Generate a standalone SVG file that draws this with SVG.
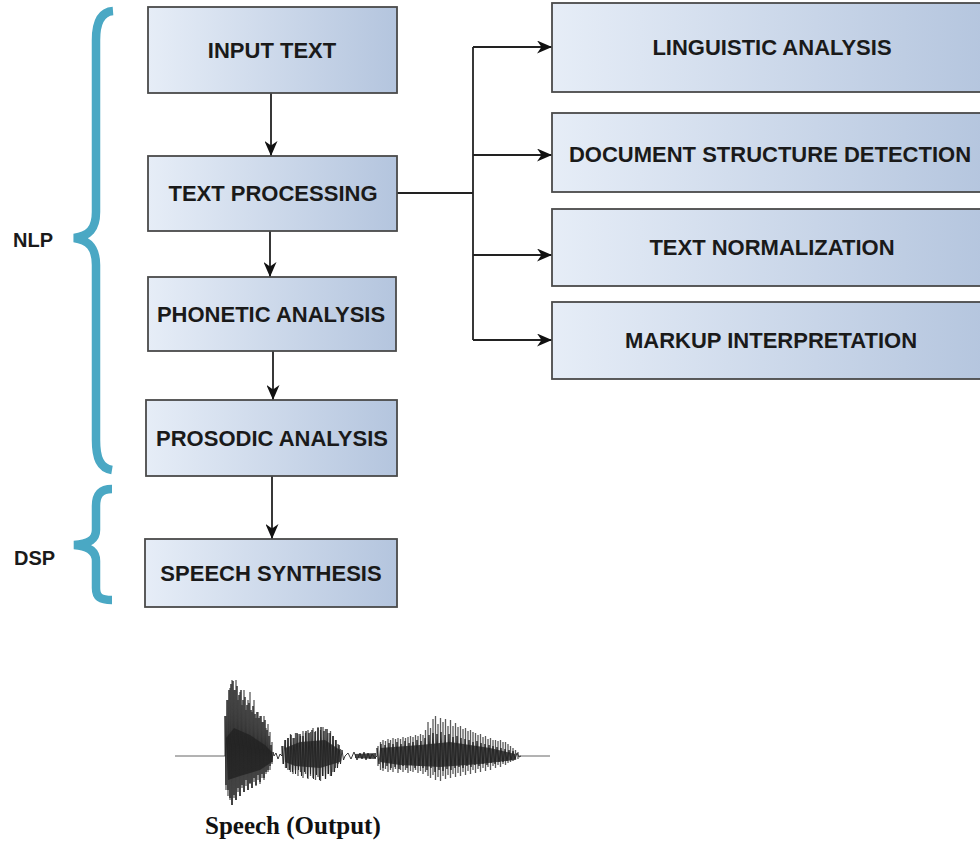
<svg xmlns="http://www.w3.org/2000/svg" width="980" height="844" viewBox="0 0 980 844">
<defs>
<linearGradient id="boxg" x1="0" y1="0" x2="1" y2="0">
<stop offset="0" stop-color="#e6edf7"/>
<stop offset="1" stop-color="#b4c5de"/>
</linearGradient>
<marker id="arr" viewBox="0 0 15 13" markerWidth="15" markerHeight="13" refX="15" refY="6.5" orient="auto" markerUnits="userSpaceOnUse">
<path d="M0,0 L15,6.5 L0,13 L4.5,6.5 z" fill="#111"/>
</marker>
</defs>
<style>
.box{fill:url(#boxg);stroke:#4a4a4a;stroke-width:1.8}
.lbl{font-family:"Liberation Sans",Arial,sans-serif;font-weight:bold;font-size:22px;fill:#1a1a1a;text-anchor:middle}
.side{font-family:"Liberation Sans",Arial,sans-serif;font-weight:bold;font-size:20px;fill:#1a1a1a}
.con{fill:none;stroke:#222;stroke-width:1.8}
.brace{fill:none;stroke:#4aa8c4;stroke-width:8.5;stroke-linecap:butt}
.wave{fill:none;stroke:#222;stroke-width:0.9}
.pulse{fill:none;stroke:#5a5a5a;stroke-width:1.3}
.core{fill:#2a2a2a;opacity:0.85}
</style>
<rect width="980" height="844" fill="#fff"/>

<g id="braces">
<path class="brace" d="M113,11 C100,12 96,24 96,40 V212 C96,229 89,236 74,238 C89,240 96,248 96,265 V440 C96,458 100,468 112,470"/>
<path class="brace" d="M112,489 C100,489 96,495 96,506 V530 C96,540 88,544 74,545 C88,546 96,551 96,561 V588 C96,597 100,600 112,600"/>
</g>
<g id="nlp-label"><text class="side" x="13" y="247">NLP</text></g>
<g id="dsp-label"><text class="side" x="14" y="565">DSP</text></g>

<g id="connectors">
<path class="con" d="M271,93 V156" marker-end="url(#arr)"/>
<path class="con" d="M270,231 V277" marker-end="url(#arr)"/>
<path class="con" d="M273,351 V400" marker-end="url(#arr)"/>
<path class="con" d="M272,476 V539" marker-end="url(#arr)"/>
<path class="con" d="M397,193 H473"/>
<path class="con" d="M473,47 V340"/>
<path class="con" d="M473,47 H552" marker-end="url(#arr)"/>
<path class="con" d="M473,155 H552" marker-end="url(#arr)"/>
<path class="con" d="M473,255 H552" marker-end="url(#arr)"/>
<path class="con" d="M473,340 H552" marker-end="url(#arr)"/>
</g>

<g id="input-text"><rect class="box" x="148" y="7" width="249" height="86"/><text class="lbl" x="272" y="58">INPUT TEXT</text></g>
<g id="text-processing"><rect class="box" x="148" y="156" width="249" height="75"/><text class="lbl" x="273" y="201">TEXT PROCESSING</text></g>
<g id="phonetic-analysis"><rect class="box" x="148" y="277" width="248" height="74"/><text class="lbl" x="271" y="322">PHONETIC ANALYSIS</text></g>
<g id="prosodic-analysis"><rect class="box" x="146" y="400" width="251" height="76"/><text class="lbl" x="272" y="446">PROSODIC ANALYSIS</text></g>
<g id="speech-synthesis"><rect class="box" x="145" y="539" width="252" height="68"/><text class="lbl" x="271" y="581">SPEECH SYNTHESIS</text></g>

<g id="linguistic-analysis"><rect class="box" x="552" y="3" width="440" height="89"/><text class="lbl" x="772" y="55">LINGUISTIC ANALYSIS</text></g>
<g id="document-structure-detection"><rect class="box" x="552" y="113" width="440" height="79"/><text class="lbl" x="770" y="162">DOCUMENT STRUCTURE DETECTION</text></g>
<g id="text-normalization"><rect class="box" x="552" y="209" width="440" height="77"/><text class="lbl" x="772" y="255">TEXT NORMALIZATION</text></g>
<g id="markup-interpretation"><rect class="box" x="552" y="302" width="440" height="77"/><text class="lbl" x="771" y="348">MARKUP INTERPRETATION</text></g>

<g id="waveform">
<path d="M175,756 H225 M519,756 H550" stroke="#666" stroke-width="1" fill="none"/>
<path class="pulse" d="M226,716V790M228,700V796M230,688V800M232,680V805M234,690V798M236,680V800M238,700V792M240,692V796M242,705V788M244,690V792M246,710V786M248,700V790M250,692V784M252,712V788M254,700V782M256,718V786M258,712V780M260,716V784M262,722V778M264,716V780M266,728V774M268,724V772M270,732V770M272,742V764"/>
<path class="pulse" d="M283,746V764M285.5,740V768M288,738V770M290.5,734V772M293,738V774M295.5,733V770M298,734V776M300.5,736V772M303,731V778M305.5,733V774M308,730V779M310.5,732V776M313,728V778M315.5,731V780M318,727V777M320.5,730V781M323,727V776M325.5,729V779M328,733V774M330.5,731V776M333,736V772M335.5,740V768M338,744V764M340.5,749V761"/>
<path class="pulse" d="M378,746V766M380.5,742V770M383,740V771M385.5,741V769M388,739V772M390.5,740V770M393,738V772M395.5,739V769M398,738V773M400.5,739V770M403,737V772M405.5,738V770M408,737V773M410.5,736V771M413,737V772M415.5,735V770M418,736V773M420.5,734V771M423,735V774M425.5,730V772M428,722V776M430.5,728V778M433,719V775M435.5,716V780M438,724V777M440.5,718V781M443,722V776M445.5,719V779M448,726V775M450.5,720V778M453,726V774M455.5,723V777M458,727V773M460.5,726V776M463,729V772M465.5,728V775M468,731V771M470.5,730V774M473,732V770M475.5,733V773M478,735V769M480.5,734V772M483,737V768M485.5,736V771M488,739V767M490.5,738V770M493,740V766M495.5,740V768M498,741V765M500.5,740V767M503,742V764M505.5,742V765M508,744V763M510.5,746V762M513,748V761M515.5,750V760M518,752V759"/>
<path class="core" d="M226,738 L234,728 L250,735 L265,745 L272,752 L272,762 L260,770 L240,776 L228,780 Z"/>
<path class="core" d="M285,748 L300,742 L325,740 L340,750 L340,762 L320,768 L295,766 L285,762 Z"/>
<path class="core" d="M355,754 L376,753 L376,759 L355,758 Z"/>
<path class="core" d="M380,748 L420,745 L450,742 L490,748 L515,754 L515,760 L480,764 L440,767 L400,765 L380,762 Z"/>
<path class="wave" d="M225,756 L225,716 226,785 227,700 228,790 229,690 230,798 231,684 232,805 233,681 234,795 235,690 236,800 237,686 238,788 239,695 240,796 241,690 242,785 243,700 244,792 245,697 246,780 247,705 248,790 249,703 250,783 251,710 252,788 253,706 254,778 255,714 256,785 257,712 258,775 259,718 260,782 261,716 262,774 263,722 264,778 265,720 266,772 267,730 268,770 269,736 270,766 271,745 272,762 273,752 274,756 276,753 278,759 280,754 282,756"/>
<path class="wave" stroke="#333" d="M282,756 L282,746 283.5,764 285,740 286.5,768 288,738 289.5,770 291,735 292.5,772 294,738 295.5,774 297,733 298.5,770 300,734 301.5,776 303,736 304.5,772 306,731 307.5,778 309,733 310.5,774 312,730 313.5,779 315,732 316.5,775 318,728 319.5,780 321,727 322.5,776 324,731 325.5,779 327,729 328.5,774 330,733 331.5,776 333,736 334.5,772 336,740 337.5,768 339,745 340.5,764 342,750 343.5,760 345,756 348,753 351,759 354,752 357,760 360,753 362,759 364,752 366,760 368,753 370,759 372,754 375,758 377,756"/>
<path class="wave" stroke="#333" d="M377,756 L377,748 379,764 381,744 383,768 385,745 387,766 389,743 391,768 393,744 395,767 397,742 399,769 401,744 403,766 405,741 407,768 409,743 411,765 413,742 415,768 417,740 419,766 421,741 423,768 425,738 427,770 429,735 431,768 433,733 435,772 437,734 439,770 441,732 443,771 445,735 447,769 449,734 451,770 453,737 455,768 457,736 459,767 461,738 463,768 465,739 467,766 469,740 471,767 473,742 475,765 477,741 479,766 481,743 483,764 485,744 487,765 489,745 491,763 493,746 495,764 497,747 499,762 501,748 503,762 505,749 507,761 509,750 511,760 513,751 515,759 517,753 519,757 521,756"/>
</g>
<g id="speech-output-label"><text x="205" y="834" font-family="'Liberation Serif','Times New Roman',serif" font-weight="bold" font-size="25" fill="#111">Speech (Output)</text></g>
</svg>
